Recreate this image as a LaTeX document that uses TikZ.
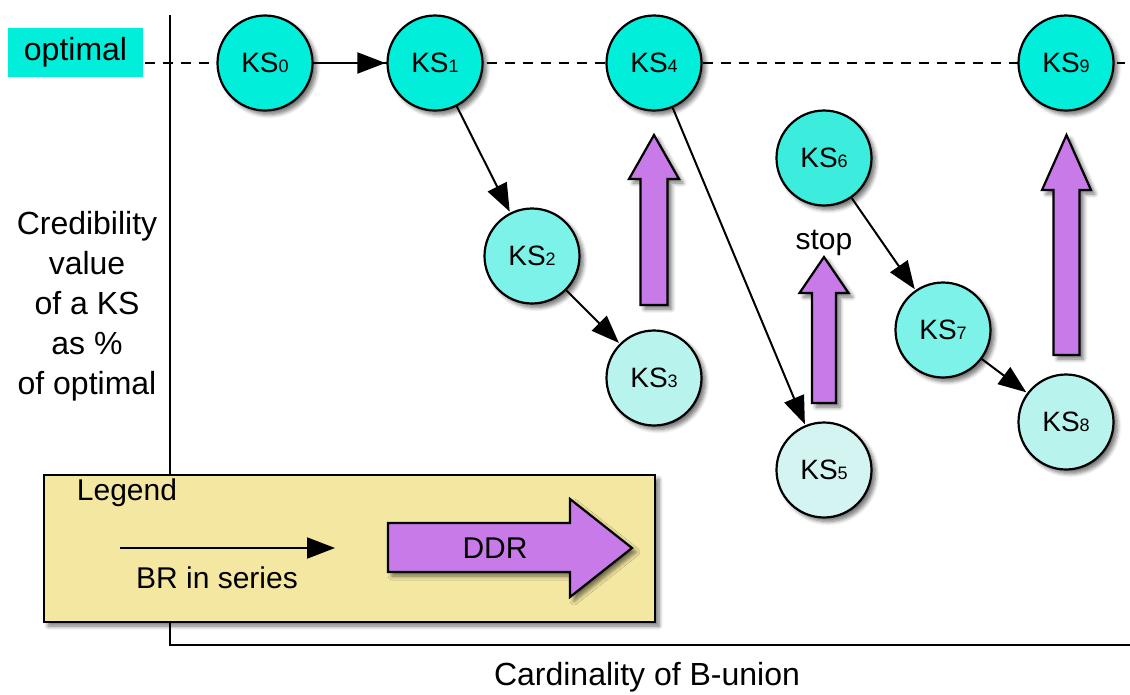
\documentclass[tikz,border=0pt]{standalone}
\usepackage{fontspec}
\setmainfont{Liberation Sans}
\usetikzlibrary{arrows.meta,shadows.blur}

\definecolor{ksfull}{HTML}{00EEDA}
\definecolor{kshigh}{HTML}{3CECDC}
\definecolor{ksmid}{HTML}{7CF2E8}
\definecolor{kslow}{HTML}{B8F3EE}
\definecolor{ksmin}{HTML}{D4F4F2}
\definecolor{ddrfill}{HTML}{C77AE8}
\definecolor{legendfill}{HTML}{F4E7A2}

% KS with its index set small on the baseline
\newcommand{\ksname}[1]{KS{\fontsize{18}{18}\selectfont #1}}

\tikzset{
  softshadow/.style={blur shadow={shadow xshift=4pt, shadow yshift=-4pt,
      shadow blur radius=4pt, shadow blur steps=6, shadow opacity=55}},
  ksnode/.style={circle, draw, line width=2.2pt, minimum size=95pt, inner sep=0pt,
      font=\fontsize{28}{30}\selectfont, softshadow},
  brarrow/.style={line width=2pt, draw=black, opacity=1,
      -{Triangle[length=28pt,width=21pt,fill=black]}, shorten >=1pt},
  fatarrow/.style={draw, line width=2.2pt, fill=ddrfill, line join=miter, softshadow},
  label/.style={font=\fontsize{32}{40}\selectfont, align=center, inner sep=0pt},
  smalllabel/.style={font=\fontsize{30}{34}\selectfont, inner sep=0pt},
}

\begin{document}
\begin{tikzpicture}[x=1pt, y=-1pt]
\useasboundingbox (0,0) rectangle (1130,694);

% axes
\draw[line width=2.2pt] (170,15) -- (170,645) -- (1130,645);

% level of the optimum
\draw[line width=2pt, dash pattern=on 10pt off 8pt] (145,63) -- (1125,63);
\node[fill=ksfull, minimum width=135pt, minimum height=49pt, inner sep=0pt,
      font=\fontsize{32}{34}\selectfont] (opt) at (75.5,52.5) {optimal};

% axis titles
\node[label] (ylab) at (87,306) {Credibility\\value\\of a KS\\as \%\\of optimal};
\node[label] (xlab) at (647,677) {Cardinality of B-union};

% knowledge states
\node[ksnode, fill=ksfull] (ks0) at (265,63) {\ksname{0}};
\node[ksnode, fill=ksfull] (ks1) at (435,63) {\ksname{1}};
\node[ksnode, fill=ksfull] (ks4) at (654,63) {\ksname{4}};
\node[ksnode, fill=ksfull] (ks9) at (1066,63) {\ksname{9}};
\node[ksnode, fill=ksmid]  (ks2) at (532,256) {\ksname{2}};
\node[ksnode, fill=kslow]  (ks3) at (654,378) {\ksname{3}};
\node[ksnode, fill=ksmin]  (ks5) at (824,470) {\ksname{5}};
\node[ksnode, fill=kshigh] (ks6) at (824,158) {\ksname{6}};
\node[ksnode, fill=ksmid]  (ks7) at (943,330) {\ksname{7}};
\node[ksnode, fill=kslow]  (ks8) at (1066,422) {\ksname{8}};

% BR steps in series
\draw[brarrow] (ks0) -- (ks1);
\draw[brarrow] (ks1) -- (ks2);
\draw[brarrow] (ks2) -- (ks3);
\draw[brarrow] (ks4) -- (ks5);
\draw[brarrow] (ks6) -- (ks7);
\draw[brarrow] (ks7) -- (ks8);

% DDR jumps
\draw[fatarrow] (640.5,305) -- (640.5,179) -- (629,179) -- (654,135)
   -- (679,179) -- (667.5,179) -- (667.5,305) -- cycle;
\draw[fatarrow] (812,403) -- (812,293) -- (799.5,293) -- (824,257)
   -- (848.5,293) -- (836,293) -- (836,403) -- cycle;
\draw[fatarrow] (1053.5,355) -- (1053.5,190) -- (1042,190) -- (1066.5,135)
   -- (1091,190) -- (1079.5,190) -- (1079.5,355) -- cycle;
\node[smalllabel] (stop) at (824,243) {stop};

% legend
\draw[line width=2.2pt, fill=legendfill, softshadow] (44,475) rectangle (655,622);
\node[smalllabel] (leg) at (127,493) {Legend};
\coordinate (lgA) at (120,548);
\coordinate (lgB) at (336,548);
\draw[brarrow] (lgA) -- (lgB);
\node[smalllabel] (lgbr) at (217,578) {BR in series};
\draw[fatarrow] (388,523) -- (570,523) -- (570,499) -- (632,548)
   -- (570,597) -- (570,572) -- (388,572) -- cycle;
\node[smalllabel] (lgddr) at (495,548) {DDR};
\end{tikzpicture}
\end{document}
